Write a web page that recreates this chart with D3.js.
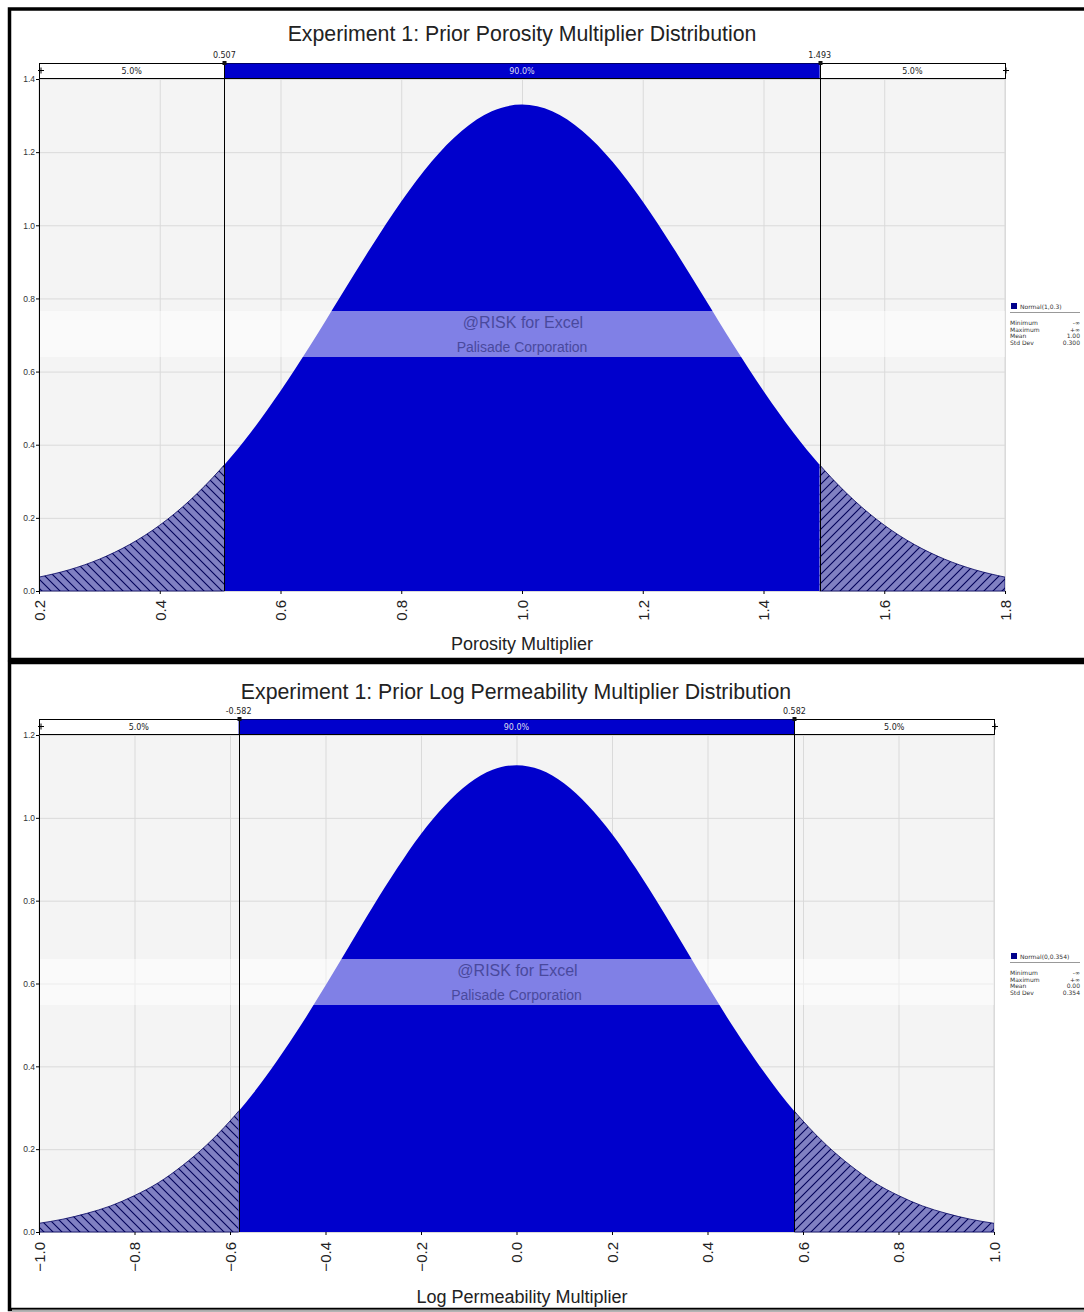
<!DOCTYPE html>
<html>
<head>
  <meta charset="utf-8">
  <title>Prior distributions</title>
  <style>
    body { margin: 0; background: #fff; }
    text { font-family: "Liberation Sans", Arial, sans-serif; }
    .small { font-family: "DejaVu Sans", sans-serif; font-size: 8px; }
    .tiny { font-family: "DejaVu Sans", sans-serif; font-size: 6px; fill: #333; }
  </style>
</head>
<body>
<script src="https://d3js.org/d3.v7.min.js"></script>
<script>
  var width = 1084,
      height = 1312;

  // ---- top chart: Normal(1, 0.3) ----
  var porosityX = [0.2, 0.25, 0.3, 0.35, 0.4, 0.45, 0.5, 0.55, 0.6, 0.65, 0.7, 0.75, 0.8, 0.85, 0.9, 0.95,
                   1.0, 1.05, 1.1, 1.15, 1.2, 1.25, 1.3, 1.35, 1.4, 1.45, 1.5, 1.55, 1.6, 1.65, 1.7, 1.75, 1.8];
  var porosityDensity = [0.038, 0.058, 0.087, 0.127, 0.180, 0.248, 0.332, 0.432, 0.547, 0.673, 0.807, 0.940, 1.065, 1.174, 1.258, 1.312,
                         1.330, 1.312, 1.258, 1.174, 1.065, 0.940, 0.807, 0.673, 0.547, 0.432, 0.332, 0.248, 0.180, 0.127, 0.087, 0.058, 0.038];
  var porosityXTicks = [0.2, 0.4, 0.6, 0.8, 1.0, 1.2, 1.4, 1.6, 1.8];
  var porosityYTicks = [0.0, 0.2, 0.4, 0.6, 0.8, 1.0, 1.2, 1.4];
  var porosityCuts = [0.507, 1.493];
  var porosityCutLabels = ['0.507', '1.493'];
  var porosityPercents = ['5.0%', '90.0%', '5.0%'];
  var porosityLegendValues = ['-\u221e', '+\u221e', '1.00', '0.300'];

  // ---- bottom chart: Normal(0, 0.354) ----
  var logPermX = [-1.0, -0.95, -0.9, -0.85, -0.8, -0.75, -0.7, -0.65, -0.6, -0.55, -0.5, -0.45, -0.4, -0.35, -0.3, -0.25, -0.2, -0.15, -0.1, -0.05,
                  0.0, 0.05, 0.1, 0.15, 0.2, 0.25, 0.3, 0.35, 0.4, 0.45, 0.5, 0.55, 0.6, 0.65, 0.7, 0.75, 0.8, 0.85, 0.9, 0.95, 1.0];
  var logPermDensity = [0.021, 0.031, 0.045, 0.063, 0.088, 0.119, 0.160, 0.209, 0.268, 0.337, 0.416, 0.502, 0.595, 0.691, 0.787, 0.878, 0.961, 1.030, 1.083, 1.116,
                        1.127, 1.116, 1.083, 1.030, 0.961, 0.878, 0.787, 0.691, 0.595, 0.502, 0.416, 0.337, 0.268, 0.209, 0.160, 0.119, 0.088, 0.063, 0.045, 0.031, 0.021];
  var logPermXTicks = [-1.0, -0.8, -0.6, -0.4, -0.2, 0.0, 0.2, 0.4, 0.6, 0.8, 1.0];
  var logPermYTicks = [0.0, 0.2, 0.4, 0.6, 0.8, 1.0, 1.2];
  var logPermCuts = [-0.582, 0.582];
  var logPermCutLabels = ['-0.582', '0.582'];
  var logPermPercents = ['5.0%', '90.0%', '5.0%'];
  var logPermLegendValues = ['-\u221e', '+\u221e', '0.00', '0.354'];

  var legendLabels = ['Minimum', 'Maximum', 'Mean', 'Std Dev'];

  var blue = '#0000cc';

  var svg = d3.select('body')
    .append('svg')
    .attr('width', width)
    .attr('height', height);

  svg.append('rect').attr('width', width).attr('height', height).attr('fill', '#fff');

  var defs = svg.append('defs');

  function hatch(id, d) {
    var p = defs.append('pattern')
      .attr('id', id)
      .attr('patternUnits', 'userSpaceOnUse')
      .attr('width', 9)
      .attr('height', 9);
    p.append('rect').attr('width', 9).attr('height', 9).attr('fill', '#8080c2');
    p.append('path').attr('d', d).attr('stroke', '#000058').attr('stroke-width', 1.1);
  }
  hatch('hatchL', 'M0,0L9,9M-1,8L1,10M8,-1L10,1');
  hatch('hatchR', 'M0,9L9,0M-1,1L1,-1M8,10L10,8');

  // panel borders
  svg.append('rect')
    .attr('x', 9.5).attr('y', 9).attr('width', 1090).attr('height', 650.5)
    .attr('fill', 'none').attr('stroke', '#000').attr('stroke-width', 3.5);
  svg.append('rect')
    .attr('x', 9.5).attr('y', 662.5).attr('width', 1090).attr('height', 647)
    .attr('fill', 'none').attr('stroke', '#000').attr('stroke-width', 3.5);
  svg.append('line')
    .attr('x1', 12).attr('x2', width).attr('y1', 1310.5).attr('y2', 1310.5)
    .attr('stroke', '#aaa').attr('stroke-width', 2);

  function drawPanel(o) {
    var g = svg.append('g');

    var x = d3.scaleLinear().domain(o.xDomain).range(o.xRange);
    var y = d3.scaleLinear().domain(o.yDomain).range(o.yRange);

    var left = o.xRange[0], right = o.xRange[1];
    var top = o.yRange[1], bottom = o.yRange[0];

    // plot background
    g.append('rect')
      .attr('x', left).attr('y', top)
      .attr('width', right - left).attr('height', bottom - top)
      .attr('fill', '#f4f4f4').attr('stroke', '#d6d6d6');

    // grid
    g.append('g').selectAll('line')
      .data(o.xTicks)
      .enter().append('line')
      .attr('x1', function(d) { return x(d) + 0.5; })
      .attr('x2', function(d) { return x(d) + 0.5; })
      .attr('y1', top).attr('y2', bottom)
      .attr('stroke', '#dadada');
    g.append('g').selectAll('line')
      .data(o.yTicks)
      .enter().append('line')
      .attr('x1', left).attr('x2', right)
      .attr('y1', function(d) { return y(d) + 0.5; })
      .attr('y2', function(d) { return y(d) + 0.5; })
      .attr('stroke', '#dadada');

    // curve, split in three by clip paths
    var area = d3.area()
      .x(function(d, i) { return x(o.xs[i]); })
      .y0(y(0))
      .y1(function(d) { return y(d); })
      .curve(d3.curveMonotoneX);

    var edges = [left, x(o.cuts[0]), x(o.cuts[1]), right];
    var fills = ['url(#hatchL)', blue, 'url(#hatchR)'];
    for (var k = 0; k < 3; k++) {
      var cid = o.id + 'clip' + k;
      defs.append('clipPath').attr('id', cid)
        .append('rect')
        .attr('x', edges[k]).attr('y', top)
        .attr('width', edges[k + 1] - edges[k]).attr('height', bottom - top + 1);
      g.append('path')
        .datum(o.density)
        .attr('clip-path', 'url(#' + cid + ')')
        .attr('d', area)
        .attr('fill', fills[k])
        .attr('stroke', k === 1 ? 'none' : '#000060')
        .attr('stroke-width', 0.8);
    }

    // watermark band
    g.append('rect')
      .attr('x', left).attr('y', o.bandY)
      .attr('width', right - left).attr('height', 46)
      .attr('fill', '#fff').attr('opacity', 0.5);
    var mid = (left + right) / 2;
    g.append('text')
      .attr('x', mid + 1).attr('y', o.bandY + 17)
      .attr('text-anchor', 'middle')
      .attr('font-size', 16)
      .attr('fill', '#3c3c8c').attr('opacity', 0.8)
      .text('@RISK for Excel');
    g.append('text')
      .attr('x', mid).attr('y', o.bandY + 41)
      .attr('text-anchor', 'middle')
      .attr('font-size', 14)
      .attr('fill', '#3c3c8c').attr('opacity', 0.8)
      .text('Palisade Corporation');

    // y axis
    var yAxis = d3.axisLeft(y)
      .tickValues(o.yTicks)
      .tickFormat(d3.format('.1f'))
      .tickSize(3)
      .tickPadding(1);
    var yAxisG = g.append('g')
      .attr('transform', 'translate(' + left + ',0)')
      .call(yAxis);
    yAxisG.select('.domain').attr('stroke', '#000');
    yAxisG.selectAll('text')
      .attr('font-family', '"DejaVu Sans", sans-serif')
      .attr('font-size', 8.5)
      .attr('fill', '#333');

    // x axis
    var xAxis = d3.axisBottom(x)
      .tickValues(o.xTicks)
      .tickFormat(d3.format('.1f'))
      .tickSize(3);
    var xAxisG = g.append('g')
      .attr('transform', 'translate(0,' + bottom + ')')
      .call(xAxis);
    xAxisG.select('.domain').remove();
    xAxisG.selectAll('text')
      .attr('font-family', '"Liberation Sans", Arial, sans-serif')
      .attr('font-size', 15)
      .attr('fill', '#222')
      .attr('text-anchor', 'end')
      .attr('transform', 'rotate(-90)')
      .attr('x', -o.labelGap)
      .attr('y', 0)
      .attr('dy', '0.36em');

    // percentile bar
    var barTop = top - 16, barH = 15;
    g.append('rect')
      .attr('x', left + 0.5).attr('y', barTop + 0.5)
      .attr('width', right - left).attr('height', barH)
      .attr('fill', '#fff').attr('stroke', '#000');
    g.append('rect')
      .attr('x', x(o.cuts[0])).attr('y', barTop + 0.5)
      .attr('width', x(o.cuts[1]) - x(o.cuts[0])).attr('height', barH)
      .attr('fill', blue);
    g.append('line')
      .attr('x1', left).attr('x2', right)
      .attr('y1', barTop + barH + 0.5).attr('y2', barTop + barH + 0.5)
      .attr('stroke', '#000');

    g.selectAll('.pct' + o.id)
      .data(o.percents)
      .enter().append('text')
      .attr('class', 'small')
      .attr('x', function(d, i) { return (edges[i] + edges[i + 1]) / 2; })
      .attr('y', barTop + 11)
      .attr('text-anchor', 'middle')
      .attr('fill', function(d, i) { return i === 1 ? '#dde' : '#222'; })
      .text(function(d) { return d; });

    // cut lines and markers
    g.selectAll('.cut' + o.id)
      .data(o.cuts)
      .enter().append('line')
      .attr('x1', function(d) { return Math.round(x(d)) + 0.5; })
      .attr('x2', function(d) { return Math.round(x(d)) + 0.5; })
      .attr('y1', barTop).attr('y2', bottom)
      .attr('stroke', '#000');
    g.selectAll('.mark' + o.id)
      .data(o.cuts)
      .enter().append('rect')
      .attr('x', function(d) { return Math.round(x(d)) - 1.5; })
      .attr('y', barTop - 2)
      .attr('width', 4).attr('height', 4)
      .attr('fill', '#111');
    g.selectAll('.cutlab' + o.id)
      .data(o.cutLabels)
      .enter().append('text')
      .attr('class', 'small')
      .attr('x', function(d, i) { return x(o.cuts[i]); })
      .attr('y', barTop - 5)
      .attr('text-anchor', 'middle')
      .attr('fill', '#222')
      .text(function(d) { return d; });

    // slider handles at the ends
    [left + 2, right + 1].forEach(function(hx) {
      g.append('path')
        .attr('d', 'M' + (hx - 3) + ',' + (barTop + 7.5) + 'h6M' + hx + ',' + (barTop + 4.5) + 'v6')
        .attr('stroke', '#000');
    });

    // titles
    g.append('text')
      .attr('x', o.titleX).attr('y', o.titleY)
      .attr('text-anchor', 'middle')
      .attr('font-size', 21.3)
      .attr('fill', '#222')
      .text(o.title);
    g.append('text')
      .attr('x', 522).attr('y', o.xLabelY)
      .attr('text-anchor', 'middle')
      .attr('font-size', 18)
      .attr('fill', '#222')
      .text(o.xLabel);

    // legend
    var lg = g.append('g').attr('transform', 'translate(1010,' + o.legendY + ')');
    lg.append('rect').attr('x', 1).attr('y', -3).attr('width', 6).attr('height', 6).attr('fill', '#00008b');
    lg.append('text').attr('class', 'tiny').attr('x', 10).attr('y', 2.5).text(o.legendTitle);
    lg.append('line').attr('x1', 0).attr('x2', 70).attr('y1', 6.5).attr('y2', 6.5).attr('stroke', '#999');
    lg.selectAll('.ll')
      .data(legendLabels)
      .enter().append('text')
      .attr('class', 'tiny')
      .attr('x', 0)
      .attr('y', function(d, i) { return 19 + i * 6.7; })
      .text(function(d) { return d; });
    lg.selectAll('.lv')
      .data(o.legendValues)
      .enter().append('text')
      .attr('class', 'tiny')
      .attr('x', 70)
      .attr('y', function(d, i) { return 19 + i * 6.7; })
      .attr('text-anchor', 'end')
      .text(function(d) { return d; });
  }

  drawPanel({
    id: 'p',
    xs: porosityX,
    density: porosityDensity,
    xTicks: porosityXTicks,
    yTicks: porosityYTicks,
    cuts: porosityCuts,
    cutLabels: porosityCutLabels,
    percents: porosityPercents,
    legendValues: porosityLegendValues,
    legendTitle: 'Normal(1,0.3)',
    title: 'Experiment 1: Prior Porosity Multiplier Distribution',
    xLabel: 'Porosity Multiplier',
    xDomain: [0.2, 1.8], xRange: [39, 1005],
    yDomain: [0, 1.4], yRange: [591, 79],
    titleX: 522, titleY: 41, xLabelY: 650,
    labelGap: 9, bandY: 311, legendY: 306
  });

  drawPanel({
    id: 'l',
    xs: logPermX,
    density: logPermDensity,
    xTicks: logPermXTicks,
    yTicks: logPermYTicks,
    cuts: logPermCuts,
    cutLabels: logPermCutLabels,
    percents: logPermPercents,
    legendValues: logPermLegendValues,
    legendTitle: 'Normal(0,0.354)',
    title: 'Experiment 1: Prior Log Permeability Multiplier Distribution',
    xLabel: 'Log Permeability Multiplier',
    xDomain: [-1, 1], xRange: [39, 994],
    yDomain: [0, 1.2], yRange: [1232, 735],
    titleX: 516, titleY: 699, xLabelY: 1303,
    labelGap: 10, bandY: 959, legendY: 956
  });
</script>
</body>
</html>
